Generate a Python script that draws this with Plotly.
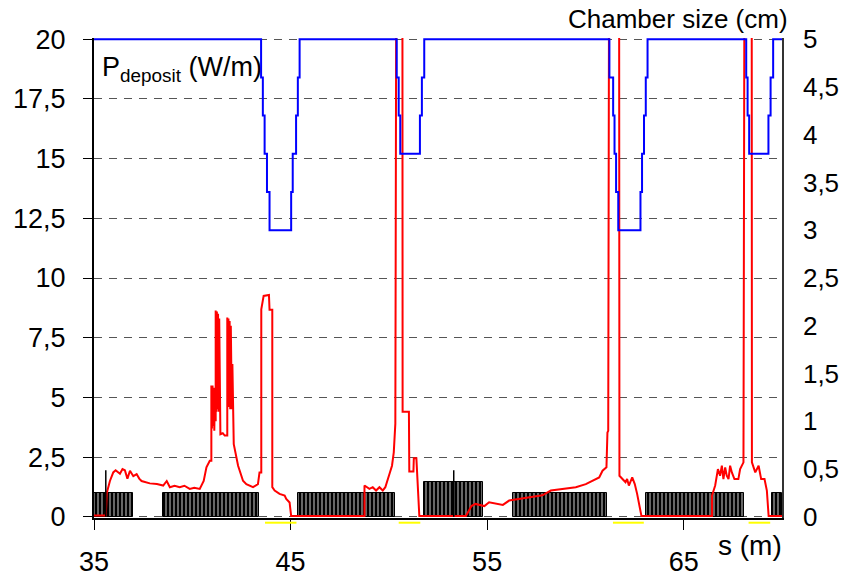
import plotly.graph_objects as go

# ---------------- data ----------------
# Deposited power P (W/m) along s (m) (spikes exceed the axis)
p_s = [35.0, 35.6, 35.65, 35.81, 35.98, 36.1, 36.32, 36.45, 36.57, 36.7, 36.83, 37.0, 37.17, 37.3, 37.42,
       37.84, 38.2, 38.52, 38.7, 38.86, 39.1, 39.36, 39.6, 39.87, 40.1, 40.38, 40.58, 40.72, 40.89,
       40.97, 40.97, 41.0, 41.03, 41.06, 41.09, 41.12, 41.15, 41.19, 41.19, 41.22, 41.25, 41.28, 41.31,
       41.34, 41.37, 41.40, 41.43, 41.55, 41.65, 41.78, 41.78, 41.81, 41.84, 41.87, 41.90, 41.93, 41.96,
       41.98, 42.01, 42.04, 42.07, 42.11, 42.33, 42.58, 42.75, 43.09, 43.34, 43.42, 43.51, 43.51, 43.63,
       43.90, 43.93, 44.07, 44.07, 44.19, 44.44, 44.70, 44.78, 44.95, 45.03, 48.76, 48.76, 48.9, 49.01,
       49.18, 49.35, 49.52, 49.69, 49.82, 49.94, 50.03, 50.16, 50.25, 50.33, 50.42, 50.68, 50.70, 51.02,
       51.04, 51.25, 51.27, 51.40, 51.50, 51.55, 53.92, 54.2, 54.4, 54.6, 54.86, 55.1, 55.4, 55.8, 56.12,
       56.63, 57.14, 57.5, 57.81, 58.24, 58.83, 59.2, 59.51, 60.02, 60.36, 60.70, 60.87, 61.07, 61.12,
       61.16, 61.24, 61.70, 61.73, 61.87, 62.04, 62.12, 62.21, 62.38, 62.51, 62.63, 62.75, 62.85, 66.44,
       66.44, 66.60, 66.74, 66.85, 66.94, 67.02, 67.11, 67.19, 67.28, 67.36, 67.45, 67.58, 67.78, 67.87,
       68.04, 68.13, 68.45, 68.47, 68.64, 68.81, 68.94, 69.11, 69.23, 69.32, 70.0]
p_val = [0.05, 0.05, 1.0, 1.5, 1.86, 1.95, 1.8, 2.0, 1.95, 1.6, 1.93, 1.7, 1.79, 1.6, 1.5,
         1.4, 1.37, 1.31, 1.5, 1.24, 1.3, 1.24, 1.3, 1.17, 1.22, 1.17, 1.5, 2.07, 2.35,
         2.35, 5.5, 3.7, 5.5, 3.8, 5.4, 3.6, 5.3, 4.0, 8.64, 4.4, 8.6, 4.5, 8.5,
         4.4, 8.3, 4.36, 3.46, 3.5, 3.4, 3.4, 8.35, 4.6, 8.3, 4.6, 8.2, 4.5, 8.0,
         6.45, 4.5, 6.4, 4.5, 3.04, 2.14, 1.51, 1.37, 1.24, 1.37, 1.86, 1.86, 8.69, 9.25,
         9.29, 8.67, 8.67, 1.24, 1.10, 0.96, 0.89, 0.75, 0.6, 0.03, 0.03, 1.31, 1.22, 1.17,
         1.24, 1.10, 1.24, 1.10, 1.24, 1.51, 1.79, 2.14, 2.7, 3.9, 40.0, 40.0, 4.4, 4.4,
         1.9, 1.9, 2.45, 2.45, 1.0, 0.03, 0.03, 0.45, 0.54, 0.5, 0.45, 0.61, 0.55, 0.5, 0.68,
         0.75, 0.82, 0.85, 0.9, 1.1, 1.17, 1.2, 1.24, 1.37, 1.51, 1.65, 1.93, 2.07, 3.53,
         3.6, 40.0, 40.0, 1.72, 1.58, 1.45, 1.58, 1.31, 1.65, 1.37, 0.96, 0.4, 0.03, 0.03,
         0.89, 1.31, 2.0, 1.72, 2.14, 1.58, 2.07, 1.72, 1.58, 2.14, 1.86, 1.58, 1.58, 2.0,
         2.28, 40.0, 40.0, 2.28, 1.86, 2.14, 1.58, 1.58, 1.1, 0.03, 0.03]

# Chamber size (cm) along s (m), step function
ch_s = [35.0, 43.50, 43.59, 43.68, 43.80, 43.93, 45.03, 45.11, 45.28, 45.37, 45.46,
        50.40, 50.50, 50.58, 51.58, 51.68, 51.80,
        61.22, 61.41, 61.48, 61.56, 61.67, 62.80, 62.88, 62.98, 63.07, 63.16,
        68.18, 68.25, 68.33, 69.31, 69.42, 69.55, 70.0]
ch_val = [5.0, 4.6, 4.2, 3.8, 3.4, 3.0, 3.4, 3.8, 4.2, 4.6, 5.0,
          4.6, 4.2, 3.8, 4.2, 4.6, 5.0,
          4.6, 4.2, 3.8, 3.4, 3.0, 3.4, 3.8, 4.2, 4.6, 5.0,
          4.6, 4.2, 3.8, 4.2, 4.6, 5.0, 5.0]

# Magnet blocks (black hatched bars), in left-axis units
blk_start = [35.0, 38.5, 45.4, 51.8, 56.3, 63.1, 69.5]
blk_end = [37.0, 43.4, 50.3, 54.8, 61.1, 68.05, 70.0]
blk_h = [1.0, 1.0, 1.0, 1.45, 1.0, 1.0, 1.0]

# single tall markers
tall_s = [35.6, 53.3]
tall_h = [1.95, 1.95]

# yellow segments under the axis (narrow chamber zones)
yel_start = [43.7, 50.5, 61.4, 68.3]
yel_end = [45.3, 51.6, 62.97, 69.4]

x_ticks = [35, 45, 55, 65]
yl_ticks = [0, 2.5, 5, 7.5, 10, 12.5, 15, 17.5, 20]
yl_text = ["0", "2,5", "5", "7,5", "10", "12,5", "15", "17,5", "20"]
yr_ticks = [0, 0.5, 1, 1.5, 2, 2.5, 3, 3.5, 4, 4.5, 5]
yr_text = ["0", "0,5", "1", "1,5", "2", "2,5", "3", "3,5", "4", "4,5", "5"]

FONT = "Liberation Sans, Arial, sans-serif"

fig = go.Figure()

fig.add_trace(go.Scatter(x=p_s, y=p_val, mode="lines", line=dict(color="#ff0000", width=2),
                         showlegend=False, yaxis="y"))

centers = [(a + b) / 2 for a, b in zip(blk_start, blk_end)]
widths = [b - a for a, b in zip(blk_start, blk_end)]
fig.add_trace(go.Bar(x=centers, y=blk_h, width=widths, base=0, yaxis="y",
                     marker=dict(color="black",
                                 line=dict(color="black", width=1),
                                 pattern=dict(shape="|", fgcolor="black", bgcolor="rgba(255,255,255,0)",
                                              size=4, solidity=0.8, fillmode="replace")),
                     showlegend=False))

tx, ty = [], []
for s, h in zip(tall_s, tall_h):
    tx += [s, s, None]
    ty += [0, h, None]
fig.add_trace(go.Scatter(x=tx, y=ty, mode="lines", line=dict(color="black", width=1.5),
                         showlegend=False, yaxis="y"))

fig.add_trace(go.Scatter(x=ch_s, y=ch_val, mode="lines", line=dict(color="#0000ff", width=2, shape="hv"),
                         showlegend=False, yaxis="y2"))

for a, b in zip(yel_start, yel_end):
    fig.add_shape(type="line", xref="x", yref="paper", x0=a, x1=b, y0=-0.0098, y1=-0.0098,
                  line=dict(color="#ffff00", width=2), layer="above")

fig.update_layout(
    width=844, height=576,
    margin=dict(l=94, r=62, t=38, b=58, autoexpand=False),
    paper_bgcolor="white", plot_bgcolor="white",
    font=dict(family=FONT, size=27, color="black"),
    barmode="overlay", bargap=0,
    xaxis=dict(range=[35, 70], tickvals=x_ticks, ticks="outside", ticklen=10, tickcolor="black",
               showline=True, linecolor="black", linewidth=1.5, showgrid=False, zeroline=False,
               ticklabelstandoff=9, tickfont=dict(size=27), automargin=False),
    yaxis=dict(range=[-0.05, 20.05], tickvals=yl_ticks, ticktext=yl_text, ticks="outside", ticklen=9,
               tickcolor="black", showline=True, linecolor="black", linewidth=2,
               showgrid=True, gridcolor="#555555", gridwidth=1, griddash="8px,7px",
               zeroline=False, ticklabelstandoff=12, tickfont=dict(size=27), automargin=False),
    yaxis2=dict(range=[-0.0125, 5.0125], tickvals=yr_ticks, ticktext=yr_text, overlaying="y", side="right",
                ticks="", showline=True, linecolor="#333333", linewidth=1.5, showgrid=False,
                zeroline=False, ticklabelstandoff=14, tickfont=dict(size=26), automargin=False),
    annotations=[
        dict(text="Chamber size (cm)", xref="paper", yref="paper", x=1.0116, y=1.0396,
             xanchor="right", yanchor="middle", showarrow=False, font=dict(size=26)),
        dict(text="P<sub>deposit</sub> (W/m)", xref="paper", yref="paper", x=0.0087, y=0.975,
             xanchor="left", yanchor="top", showarrow=False, font=dict(size=27)),
        dict(text="s (m)", xref="paper", yref="paper", x=0.9535, y=-0.058,
             xanchor="center", yanchor="middle", showarrow=False, font=dict(size=28)),
    ],
)

fig.write_html("out.html")
